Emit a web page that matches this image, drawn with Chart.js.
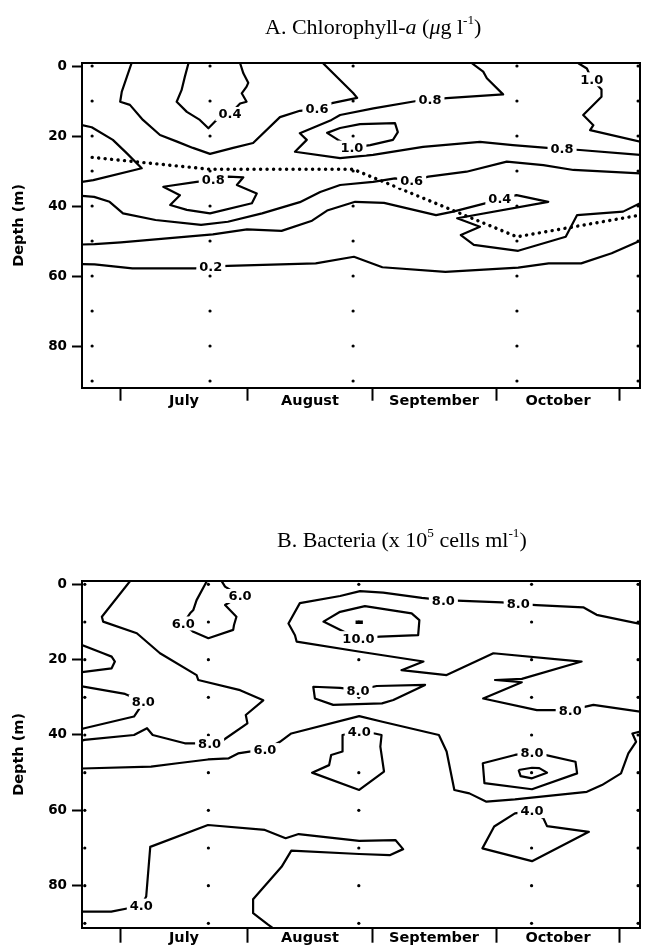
<!DOCTYPE html>
<html><head><meta charset="utf-8">
<script src="https://cdn.jsdelivr.net/npm/chart.js@4.4.1/dist/chart.umd.min.js"></script>
<style>
html,body{margin:0;padding:0;background:#fff;}
#wrap{position:relative;width:655px;height:949px;overflow:hidden;background:#fff;}
canvas{position:absolute;left:0;}
.ttl{position:absolute;font-family:"Liberation Serif","Times New Roman",serif;font-size:22px;line-height:22px;color:#000;white-space:nowrap;z-index:2;}
.sup{font-size:0.6em;position:relative;top:-0.75em;}
</style></head><body>
<div id="wrap">
<canvas id="cA" width="655" height="420" style="top:0;width:655px;height:420px"></canvas>
<canvas id="cB" width="655" height="479" style="top:470px;width:655px;height:479px"></canvas>
<div class="ttl" style="left:265px;top:16px;">A. Chlorophyll-<i>a</i> (<i>μ</i>g l<span class="sup">-1</span>)</div>
<div class="ttl" style="left:277px;top:529px;">B. Bacteria (x 10<span class="sup">5</span> cells ml<span class="sup">-1</span>)</div>
</div>
<script>
// ---------- data (x = day counted from 1 June, y = depth in m) ----------
const monthLabels = ['July','August','September','October'];
const monthMidDays = [45.5, 76.5, 107, 137.5];
const depthTicks = [0, 20, 40, 60, 80];
const sampleDepths = [0, 10, 20, 30, 40, 50, 60, 70, 80, 90];
const sampleDaysA = [22.9, 51.9, 87.1, 127.4, 157.2];
const sampleDaysB = [21.1, 51.5, 88.5, 131.0, 157.2];

// Panel A: chlorophyll-a contours
const mixedLayerA = [[22.9,26.1],[51.9,29.5],[87.1,29.5],[127.4,48.8],[157.2,42.7]];
const chlA06top = [[32.6,-0.8],[30.2,7.3],[29.8,10.2],[32.2,11.1],[35.4,15.4],[39.6,19.7],[43.8,21.6],[47.7,23.4],[51.9,25.1],[57.6,23.4],[62.5,22],[69.1,14.6],[74,12.8],[78.2,12.3],[81.9,10.6],[88.1,9.1],[87.1,7.7],[79.7,-0.8]];
const chlA04top = [[46.6,-0.8],[45.7,3.1],[44.9,6.9],[43.7,10.2],[46.2,13.1],[49.4,15.4],[51.5,17.8],[53.5,15.4],[56.8,13.7],[59.3,10.7],[60.9,10.2],[59.7,7.8],[60.9,5.9],[61.3,4.8],[60.1,2.1],[59.3,-0.8]];
const chlA08wedge = [[20.4,16.9],[22.8,17.5],[28,21.1],[31.4,24.9],[35.1,29.2],[23.2,32.6],[20.4,33.1]];
const chlA08loop = [[52.7,32.6],[48.6,33.1],[40.4,34.5],[44.5,36.9],[42.1,39.7],[46.2,41.1],[51.9,42.1],[62.2,39.2],[63.4,36.4],[58.5,34],[60.1,31.8],[56.4,31.6],[52.7,32.6]];
const chlA10loop = [[86.8,23.3],[91.3,22.6],[96.9,21.1],[98.1,18.9],[97.4,16.3],[88.8,16.6],[83.9,17.7],[80.7,19.1],[83.4,21.1],[86.8,23.3]];
const chlA08main = [[116.3,-0.8],[119.1,1.6],[120,3.5],[124,8.1],[110.1,9.2],[106,9.7],[102.7,10],[92.1,12.1],[83.9,14],[81.8,15.4],[74,19.2],[75.7,21.1],[72.8,24.5],[83.9,26.3],[92,25.4],[104.3,23.1],[118.3,21.7],[126.4,22.6],[134.8,23.4],[138.5,23.7],[142.9,24],[157.7,25.4]];
const chlA10right = [[142.5,-0.8],[144.6,0.7],[145.8,3.8],[148.2,6.7],[148.2,8.8],[143.7,14],[146.2,16.9],[145.4,18.3],[157.7,21.6]];
const chlA06main = [[20.4,37.1],[23.4,37.4],[27.2,38.8],[30.5,42.1],[38.5,44],[49.7,45.4],[56.3,44.5],[64.7,42.1],[74,38.9],[79,36],[83.9,34],[92,33.1],[97.4,32.1],[101.5,32.8],[105.6,31.6],[115,30.2],[124.9,27.3],[133.9,28.3],[141.3,29.7],[157.7,30.7]];
const chlA04main = [[20.4,51],[23.5,50.9],[30,50.4],[52.6,48.1],[61,46.7],[69.5,47.1],[77,44.2],[80.7,41.3],[87.6,38.8],[94.7,39.1],[107.5,42.6],[111.7,41.6],[121,38.8],[123.2,38],[127.3,36.9],[135.1,38.8],[112.7,43.5],[118.3,45.9],[113.6,48.3],[116.8,51.1],[127.7,52.8],[139.4,48.8],[142.2,42.6],[153.5,41.6],[157.7,39.2]];
const chlA02 = [[20.4,56.6],[23.5,56.7],[32.8,57.8],[48.3,57.8],[52.1,57.3],[56.3,57.1],[77.9,56.4],[87.3,54.5],[94.3,57.5],[109.8,58.8],[127.7,57.6],[135.2,56.4],[143.2,56.4],[150.7,53.5],[157.7,49.9]];
const labelTextA  = ['0.4','0.6','0.8','1.0','1.0','0.8','0.8','0.6','0.4','0.2'];
const labelDayA   = [56.8, 78.2, 106, 145.8, 86.8, 138.5, 52.7, 101.5, 123.2, 52.1];
const labelDepthA = [13.7, 12.3, 9.7, 3.8, 23.3, 23.7, 32.6, 32.8, 38, 57.3];

// Panel B: bacteria contours
const bac08a = [[32.2,-0.8],[25.3,8.6],[25.6,9.9],[33.9,13],[39.6,18.3],[48.6,24.1],[49,25.4],[59.3,28.1],[65,30.8],[60.7,34.7],[61.1,36.9],[55.1,41.4],[51.8,42.2],[45.7,42.2],[37.8,40],[36.4,38.2],[33.2,40],[21,41.3],[20.4,41.5]];
const bac08wedgeTop = [[20.4,16.1],[25.6,18.3],[27.7,19.2],[28.5,20.5],[27.7,22.3],[20.4,23.3]];
const bac08wedge = [[20.4,27.1],[31,29.1],[35.5,31.2],[34.4,33.2],[33.2,35.1],[21,38.2],[20.4,38.4]];
const bac06jul = [[51.1,-0.8],[48.6,4.2],[47.8,6.8],[47,7.7],[45.3,10.4],[47.8,12.6],[51.5,14.3],[57.6,12.1],[57.8,10.8],[58.4,8.6],[55.6,5.5],[59.3,3.1],[55.6,0.6],[54.8,-0.8]];
const bac08main = [[157.7,10.5],[147,8.1],[143.7,6.1],[132.2,5.5],[127.7,5.2],[123.7,4.8],[114.2,4.4],[109.3,4.2],[104,3.6],[94.5,2.2],[88.8,1.8],[83.9,3.1],[74,5],[71.2,10.4],[72.8,13.5],[73.2,15.2],[88.8,17.9],[104.4,20.5],[99,22.8],[110.1,24.1],[121.6,18.3],[143.3,20.5],[128.6,25.1],[122,25.4],[128.6,26],[119.1,30.3],[132.3,33.4],[140.5,33.4],[146.2,32],[157.7,33.8]];
const bac10aug = [[88.4,14.3],[93.7,13.9],[103.1,13.5],[103.4,9.5],[101.5,7.7],[90,5.8],[83.9,7.3],[79.8,9.9],[85.1,12.7],[88.4,14.3]];
const bac12aug = [[87.7,10.1],[89.5,10.1]];
const bac08aug = [[88.3,28.1],[92.9,27],[104.8,26.7],[97,30.7],[94.2,31.6],[82.2,32],[77.7,30.3],[77.3,27.2],[83.9,27.5],[88.3,28.1]];
const bac06main = [[20.4,48.9],[37.4,48.4],[43.9,47.5],[51.4,46.5],[56.5,46.2],[58.8,44.9],[61.6,44.4],[65.4,44],[69.1,41.8],[71.9,39.6],[88.6,35],[94.3,36.5],[108.2,40],[110.1,44.4],[112,54.6],[115.7,55.5],[119.9,57.7],[126.9,57.1],[144.6,55.1],[148.3,53.3],[153,50.2],[154.8,44.9],[156.7,41.8],[155.8,39.6],[157.7,39.1]];
const bac04aug = [[88.6,39.1],[92.4,39.6],[94.1,40],[93.8,43.1],[94.7,49.7],[88.6,54.6],[77,50],[81.2,48],[81.7,45.3],[84.5,44.4],[84.5,40],[88.6,39.1]];
const bac08oct = [[131.1,44.6],[134.3,45.3],[141.8,47.1],[142.2,50.2],[131.1,54.4],[119.4,52.8],[119,47.5],[126.9,45.3],[131.1,44.6]];
const bac10oct = [[127.8,49.3],[128.3,50.9],[131.1,51.5],[134.8,50],[132.9,48.8],[131.1,48.7],[127.8,49.3]];
const bac04oct = [[131.1,60.2],[133.9,62.1],[134.8,64.2],[145.1,65.7],[131.1,73.5],[118.9,70.1],[121.8,64.3],[126.9,60.8],[131.1,60.2]];
const bac04low = [[20.4,86.9],[27.6,86.9],[31.8,86],[35,85.3],[36.2,82.9],[37.2,69.7],[51.4,63.9],[65.4,65.2],[70.5,67.4],[73.7,66.3],[88.6,68.1],[97.5,67.9],[99.4,70.3],[96.1,71.9],[88.6,71.6],[71.9,70.7],[69.5,75],[62.5,83.6],[62.5,87.3],[66.1,90.3],[67.3,91.2]];
const labelTextB  = ['6.0','6.0','8.0','8.0','10.0','8.0','8.0','8.0','8.0','6.0','4.0','8.0','4.0','4.0'];
const labelDayB   = [45.3, 59.3, 109.3, 127.7, 88.4, 35.5, 88.3, 140.5, 51.8, 65.4, 88.6, 131.1, 131.1, 35];
const labelDepthB = [10.4, 3.1, 4.2, 5.2, 14.3, 31.2, 28.1, 33.4, 42.2, 44, 39.1, 44.6, 60.2, 85.3];

// ---------- drawing ----------
Chart.defaults.font.family = '"DejaVu Sans", Verdana, sans-serif';
Chart.defaults.color = '#000';

function labelPlugin(texts, days, depths){
  return {
    id: 'contourLabels',
    afterDatasetsDraw(chart){
      const ctx = chart.ctx, xs = chart.scales.x, ys = chart.scales.y;
      ctx.save();
      ctx.font = 'bold 13px "DejaVu Sans", Verdana, sans-serif';
      ctx.textAlign = 'center';
      ctx.textBaseline = 'middle';
      texts.forEach((t, i) => {
        const px = xs.getPixelForValue(days[i]);
        const py = ys.getPixelForValue(depths[i]);
        const w = ctx.measureText(t).width;
        ctx.fillStyle = '#fff';
        ctx.fillRect(px - w/2 - 3, py - 7, w + 6, 14);
        ctx.fillStyle = '#000';
        ctx.fillText(t, px, py + 1);
      });
      ctx.restore();
    }
  };
}

function buildChart(id, o){
  const datasets = [];
  o.lines.forEach(l => datasets.push({
    data: l.pts.map(p => ({x: p[0], y: p[1]})),
    showLine: true, borderColor: '#000', borderWidth: l.w || 2.2,
    pointRadius: 0, pointHoverRadius: 0, fill: false, tension: 0,
    borderDash: l.dash || [], borderCapStyle: l.cap || 'butt', borderJoinStyle: 'round'
  }));
  const pts = [];
  o.days.forEach(d => sampleDepths.forEach(z => pts.push({x: d, y: z})));
  datasets.push({data: pts, showLine: false, pointRadius: 1.6, pointBackgroundColor: '#000', pointBorderWidth: 0, pointHoverRadius: 0});
  const xr = {min: 20.41, max: 157.67};
  return new Chart(document.getElementById(id), {
    type: 'scatter',
    data: {datasets},
    options: {
      responsive: false, animation: false, devicePixelRatio: 1,
      events: [],
      layout: {padding: {top: o.top, right: 15, left: 0, bottom: 0}},
      plugins: {legend: {display: false}, tooltip: {enabled: false}, title: {display: false}},
      scales: {
        x: {type: 'linear', position: 'bottom', min: xr.min, max: xr.max,
          afterBuildTicks: s => { s.ticks = monthMidDays.map(v => ({value: v})); },
          afterFit: s => { s.height = o.xh; },
          ticks: {callback: (v, i) => monthLabels[i], color: '#000', font: {size: 14.5, weight: 'bold'}, padding: o.lp, maxRotation: 0, autoSkip: false},
          grid: {offset: true, drawOnChartArea: false, drawTicks: true, tickLength: o.tl, tickWidth: 2, tickColor: '#000'},
          border: {display: true, color: '#000', width: 2}},
        xTop: {type: 'linear', position: 'top', min: xr.min, max: xr.max,
          afterFit: s => { s.height = 0; },
          ticks: {display: false}, grid: {display: false},
          border: {display: true, color: '#000', width: 2}},
        y: {type: 'linear', position: 'left', reverse: true, min: o.ymin, max: o.ymax,
          afterBuildTicks: s => { s.ticks = depthTicks.map(v => ({value: v})); },
          afterFit: s => { s.width = 82; },
          ticks: {color: '#000', font: {size: 13.5, weight: 'bold'}, padding: 5},
          grid: {drawOnChartArea: false, tickLength: 10, tickWidth: 2, tickColor: '#000'},
          border: {display: true, color: '#000', width: 2},
          title: {display: true, text: 'Depth (m)', color: '#000', font: {size: 14.5, weight: 'bold'}, padding: {top: 11, bottom: 0}}},
        yRight: {type: 'linear', position: 'right', reverse: true, min: o.ymin, max: o.ymax,
          afterFit: s => { s.width = 0; },
          ticks: {display: false}, grid: {display: false},
          border: {display: true, color: '#000', width: 2}}
      }
    },
    plugins: [labelPlugin(o.labelText, o.labelDay, o.labelDepth)]
  });
}

buildChart('cA', {
  top: 63, xh: 32.3, tl: 13, lp: -8, ymin: -0.86, ymax: 91.91,
  days: sampleDaysA,
  lines: [
    {pts: chlA06top}, {pts: chlA04top}, {pts: chlA08wedge}, {pts: chlA08loop},
    {pts: chlA10loop}, {pts: chlA08main}, {pts: chlA10right}, {pts: chlA06main},
    {pts: chlA04main}, {pts: chlA02},
    {pts: mixedLayerA, w: 3.4, dash: [0.1, 6.4], cap: 'round'}
  ],
  labelText: labelTextA, labelDay: labelDayA, labelDepth: labelDepthA
});

buildChart('cB', {
  top: 111, xh: 21.3, tl: 15, lp: -13, ymin: -0.88, ymax: 91.16,
  days: sampleDaysB,
  lines: [
    {pts: bac08a}, {pts: bac08wedgeTop}, {pts: bac08wedge}, {pts: bac06jul},
    {pts: bac08main}, {pts: bac10aug}, {pts: bac12aug, w: 3.5}, {pts: bac08aug},
    {pts: bac06main}, {pts: bac04aug}, {pts: bac08oct}, {pts: bac10oct},
    {pts: bac04oct}, {pts: bac04low}
  ],
  labelText: labelTextB, labelDay: labelDayB, labelDepth: labelDepthB
});
</script>
</body></html>
